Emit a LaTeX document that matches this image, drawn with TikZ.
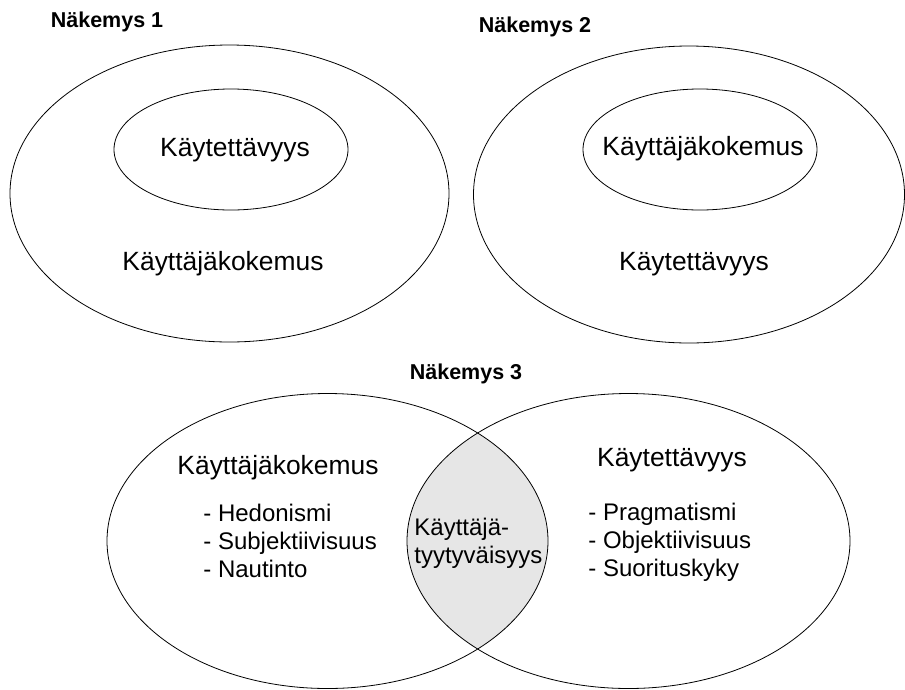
\documentclass[tikz,border=0pt]{standalone}
\usepackage{fontspec}
\setmainfont{Liberation Sans}
\usetikzlibrary{positioning}
\definecolor{overlapgray}{RGB}{230,230,230}

\begin{document}
\begin{tikzpicture}[
    x=1pt, y=-1pt,
    line width=0.8pt,
    heading/.style={font=\fontsize{21.5}{24}\selectfont\bfseries, inner sep=0pt},
    title/.style={font=\fontsize{26.4}{30}\selectfont, inner sep=0pt},
    items/.style={font=\fontsize{24}{28}\selectfont, align=left, inner sep=0pt, anchor=west}
]
\useasboundingbox (0,0) rectangle (905,689);

% Nakemys 1
\node[heading] (head1) at (107,22) {Näkemys 1};
\draw (229.5,193.5) ellipse [x radius=219.5pt, y radius=148.5pt];
\draw (231,149.5) ellipse [x radius=117pt, y radius=60.5pt];
\node[title] (inner1) at (235,150) {Käytettävyys};
\node[title] (outer1) at (223,264) {Käyttäjäkokemus};

% Nakemys 2
\node[heading] (head2) at (535,27) {Näkemys 2};
\draw (689,194.5) ellipse [x radius=215.5pt, y radius=148.5pt];
\draw (700,149.5) ellipse [x radius=117pt, y radius=60.5pt];
\node[title] (inner2) at (703,149) {Käyttäjäkokemus};
\node[title] (outer2) at (694,264) {Käytettävyys};

% Nakemys 3
\node[heading] (head3) at (466,374) {Näkemys 3};
\begin{scope}
  \clip (327.5,541) ellipse [x radius=220.5pt, y radius=147.5pt];
  \fill[overlapgray] (628.5,541) ellipse [x radius=221.5pt, y radius=147.5pt];
\end{scope}
\draw (327.5,541) ellipse [x radius=220.5pt, y radius=147.5pt];
\draw (628.5,541) ellipse [x radius=221.5pt, y radius=147.5pt];

\node[title] (ux) at (278,468) {Käyttäjäkokemus};
\node[items] (uxlist) at (203,541) {- Hedonismi\\- Subjektiivisuus\\- Nautinto};
\node[title] (usab) at (672,460) {Käytettävyys};
\node[items] (usablist) at (588,542) {- Pragmatismi\\- Objektiivisuus\\- Suorituskyky};
\node[items] (satisf) at (414,543) {Käyttäjä-\\tyytyväisyys};
\end{tikzpicture}
\end{document}
